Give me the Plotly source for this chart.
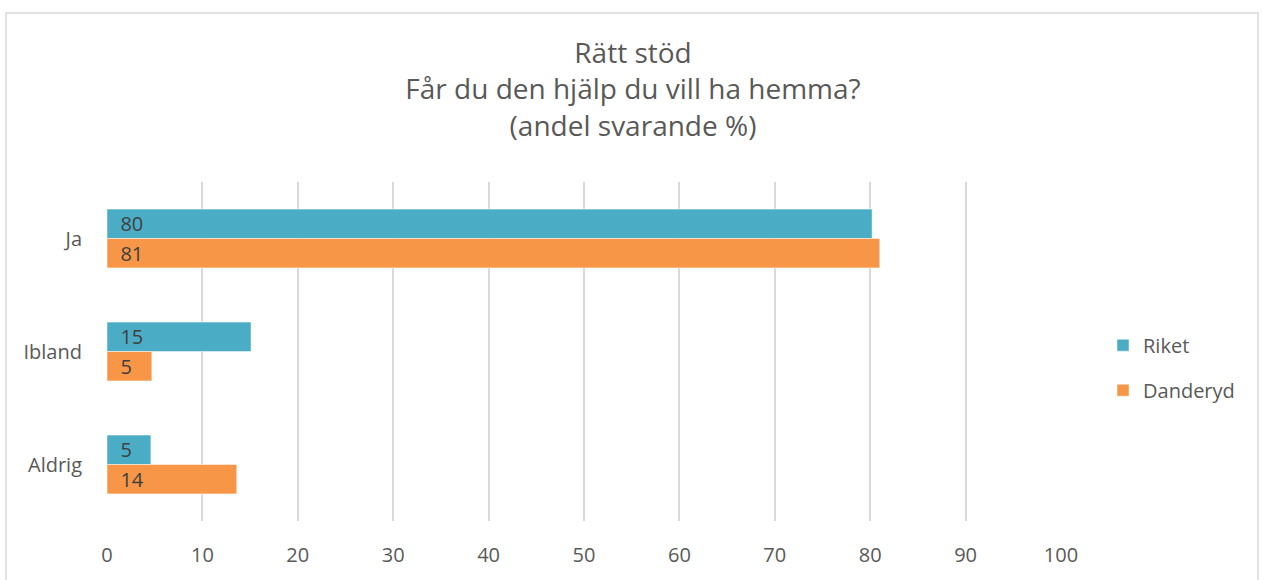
import plotly.graph_objects as go

categories = ["Ja", "Ibland", "Aldrig"]
riket = [80.2, 15.1, 4.6]
danderyd = [81.0, 4.7, 13.6]
x_ticks = [0, 10, 20, 30, 40, 50, 60, 70, 80, 90, 100]

W, H = 1262, 580
ML, MR, MT, MB = 107, 201, 182, 53
pw = W - ML - MR
ph = H - MT - MB

font_family = "Open Sans, Noto Sans, sans-serif"
txt_col = "#595959"

fig = go.Figure()
for name, vals, col, grp in [("Riket", riket, "#4BACC6", "a"), ("Danderyd", danderyd, "#F79646", "b")]:
    fig.add_trace(go.Bar(
        y=categories, x=vals, name=name, orientation="h",
        marker=dict(color=col, line=dict(color="white", width=0.5)),
        text=[f"{v:.0f}" for v in vals],
        texttemplate="\u00a0\u00a0%{text}",
        textposition="inside", insidetextanchor="start",
        textangle=0,
        insidetextfont=dict(color="#404040", size=20, family=font_family),
        constraintext="none",
        legendgroup=grp,
        hoverinfo="skip",
    ))

fig.update_layout(
    width=W, height=H,
    margin=dict(l=ML, r=MR, t=MT, b=MB),
    paper_bgcolor="white", plot_bgcolor="white",
    barmode="group", bargap=0.48, bargroupgap=0,
    font=dict(family=font_family, color=txt_col, size=20),
    title=dict(
        text="Rätt stöd<br>Får du den hjälp du vill ha hemma?<br>(andel svarande %)",
        x=633 / W, xanchor="center", xref="container",
        y=1 - 63 / H, yanchor="top", yref="container",
        font=dict(size=28, color=txt_col, family=font_family),
    ),
    legend=dict(
        x=(1103 - ML) / pw, xanchor="left",
        y=(H - MB - 371) / ph, yanchor="middle",
        traceorder="grouped", tracegroupgap=16,
        font=dict(size=20, color=txt_col, family=font_family),
        bgcolor="rgba(0,0,0,0)",
    ),
    xaxis=dict(
        range=[0, 100], tickvals=x_ticks, showgrid=True,
        gridcolor="#d9d9d9", gridwidth=2, zeroline=False,
        showline=False, ticks="outside", ticklen=16,
        tickcolor="rgba(0,0,0,0)",
        tickfont=dict(size=20, color=txt_col),
        fixedrange=True,
    ),
    yaxis=dict(
        autorange="reversed", showgrid=False, zeroline=False,
        showline=False, ticks="outside", ticklen=20,
        tickcolor="rgba(0,0,0,0)",
        tickfont=dict(size=20, color=txt_col),
        fixedrange=True,
    ),
    shapes=[dict(
        type="rect", xref="paper", yref="paper",
        x0=(6 - ML) / pw, x1=(1258 - ML) / pw,
        y0=(H - MB - 620) / ph, y1=(H - MB - 10) / ph,
        line=dict(color="#d9d9d9", width=1.5), fillcolor="rgba(0,0,0,0)",
        layer="below",
    )],
)

fig.write_html("out.html", config={"displayModeBar": False},
               post_script="document.body.style.margin='0';")
